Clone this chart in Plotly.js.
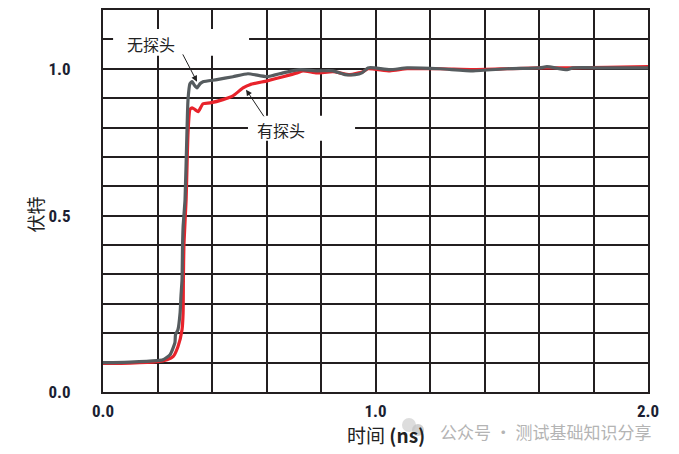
<!DOCTYPE html>
<html>
<head>
<meta charset="utf-8">
<script src="https://cdn.plot.ly/plotly-3.0.1.min.js"></script>
<style>html,body{margin:0;padding:0;background:#fff;}#chart{width:679px;height:454px;}</style>
</head>
<body>
<div id="chart"></div>
<script>
// Time axis (ns) and voltage values
const noProbeX = [0.000,0.099,0.198,0.220,0.246,0.264,0.266,0.275,0.283,0.286,0.290,0.292,0.294,0.301,0.308,0.312,0.319,0.327,0.334,0.345,0.356,0.367,0.418,0.477,0.532,0.602,0.661,0.723,0.785,0.844,0.888,0.925,0.950,0.972,0.998,1.053,1.116,1.237,1.358,1.483,1.604,1.629,1.703,1.725,1.850,2.000];
const noProbeY = [0.000,0.002,0.007,0.010,0.027,0.068,0.095,0.112,0.170,0.224,0.282,0.401,0.463,0.554,0.782,0.895,0.949,0.956,0.946,0.935,0.949,0.956,0.963,0.973,0.983,0.973,0.986,0.997,0.993,0.993,0.980,0.980,0.986,1.003,1.003,0.997,1.003,1.000,0.993,1.000,1.003,1.007,0.997,1.003,1.003,1.003];

const withProbeX = [0.000,0.099,0.198,0.235,0.257,0.275,0.290,0.294,0.295,0.297,0.305,0.312,0.319,0.327,0.338,0.349,0.367,0.393,0.440,0.477,0.514,0.539,0.602,0.661,0.712,0.734,0.785,0.844,0.906,0.954,0.972,1.053,1.116,1.237,1.358,1.483,1.604,1.725,1.850,2.000];
const withProbeY = [-0.003,-0.002,0.003,0.010,0.020,0.054,0.112,0.170,0.282,0.401,0.554,0.782,0.861,0.867,0.861,0.854,0.881,0.884,0.895,0.908,0.935,0.946,0.959,0.973,0.986,0.993,0.986,0.990,0.980,0.990,1.000,0.993,1.000,1.000,0.997,1.000,1.003,1.003,1.005,1.007];

const xTickVals = [0, 1, 2];
const xTickText = ['0.0', '1.0', '2.0'];
const yTickVals = [-0.1, 0.5, 1.0];
const yTickText = ['0.0', '0.5', '1.0'];

const labelNoProbe = '无探头';
const labelWithProbe = '有探头';
const yTitle = '伏特';
const xTitle = '时间 <b>(ns)</b>';
const watermark = '公众号 · 测试基础知识分享';

const gridColor = '#231f20';
const tickFont = {family: '"Roboto Condensed", "Liberation Sans", Arial, sans-serif', size: 17, color: '#1c1f33', weight: 'bold'};
const cjk = '"Noto Sans CJK SC", "Noto Sans", sans-serif';

const traces = [
  {x: withProbeX, y: withProbeY, mode: 'lines', name: labelWithProbe,
   line: {color: '#e8232b', width: 3.2, shape: 'spline', smoothing: 0.5}, hoverinfo: 'skip'},
  {x: noProbeX, y: noProbeY, mode: 'lines', name: labelNoProbe,
   line: {color: '#565c5f', width: 3.2, shape: 'spline', smoothing: 0.5}, hoverinfo: 'skip'}
];

const layout = {
  width: 679, height: 454,
  margin: {l: 103, r: 31, t: 10, b: 62},
  paper_bgcolor: '#ffffff', plot_bgcolor: '#ffffff',
  showlegend: false,
  xaxis: {
    range: [0, 2], tickvals: xTickVals, ticktext: xTickText,
    showgrid: true, gridcolor: gridColor, gridwidth: 2,
    minor: {dtick: 0.2, tick0: 0, showgrid: true, gridcolor: gridColor, gridwidth: 2},
    showline: true, mirror: true, linecolor: gridColor, linewidth: 2,
    zeroline: false, ticks: '', ticklabelstandoff: 3, tickfont: tickFont
  },
  yaxis: {
    range: [-0.1, 1.2], tickvals: yTickVals, ticktext: yTickText,
    showgrid: true, gridcolor: gridColor, gridwidth: 2,
    minor: {dtick: 0.1, tick0: 0, showgrid: true, gridcolor: gridColor, gridwidth: 2},
    showline: true, mirror: true, linecolor: gridColor, linewidth: 2,
    zeroline: false, ticks: '', ticklabelstandoff: 27, tickfont: tickFont
  },
  shapes: [
    {type: 'rect', layer: 'above', xref: 'x', yref: 'y', x0: 0.037, x1: 0.536, y0: 1.044, y1: 1.135, fillcolor: '#ffffff', line: {width: 0}},
    {type: 'rect', layer: 'above', xref: 'x', yref: 'y', x0: 0.532, x1: 0.925, y0: 0.755, y1: 0.840, fillcolor: '#ffffff', line: {width: 0}},
    {type: 'circle', layer: 'above', xref: 'paper', yref: 'paper', x0: 0.5486, x1: 0.5743, y0: -0.068, y1: -0.1047, fillcolor: '#d4d4d4', opacity: 0.8, line: {width: 0}},
    {type: 'circle', layer: 'above', xref: 'paper', yref: 'paper', x0: 0.567, x1: 0.589, y0: -0.0838, y1: -0.1152, fillcolor: '#c4c4c4', opacity: 0.8, line: {width: 0}}
  ],
  annotations: [
    {x: 0.176, y: 1.085, xref: 'x', yref: 'y', text: labelNoProbe, showarrow: false,
     font: {family: cjk, size: 16, color: '#222'}},
    {x: 0.653, y: 0.793, xref: 'x', yref: 'y', text: labelWithProbe, showarrow: false,
     font: {family: cjk, size: 16, color: '#222'}},
    {x: 0.345, y: 0.956, xref: 'x', yref: 'y', ax: 0.290, ay: 1.054, axref: 'x', ayref: 'y',
     text: '', showarrow: true, arrowhead: 2, arrowsize: 1.2, arrowwidth: 1, arrowcolor: '#222'},
    {x: 0.525, y: 0.929, xref: 'x', yref: 'y', ax: 0.594, ay: 0.833, axref: 'x', ayref: 'y',
     text: '', showarrow: true, arrowhead: 2, arrowsize: 1.2, arrowwidth: 1, arrowcolor: '#222'},
    {x: -0.124, y: 0.466, xref: 'paper', yref: 'paper', text: yTitle, textangle: -90, showarrow: false,
     xanchor: 'center', yanchor: 'middle', font: {family: cjk, size: 18, color: '#222'}},
    {x: 0.519, y: -0.112, xref: 'paper', yref: 'paper', text: xTitle, showarrow: false,
     xanchor: 'center', yanchor: 'middle', font: {family: cjk, size: 19, color: '#222'}},
    {x: 0.812, y: -0.103, xref: 'paper', yref: 'paper', text: watermark, showarrow: false,
     xanchor: 'center', yanchor: 'middle', font: {family: cjk, size: 17, color: '#b4b4b4'}}
  ]
};

Plotly.newPlot('chart', traces, layout, {displayModeBar: false, staticPlot: true});
</script>
</body>
</html>
